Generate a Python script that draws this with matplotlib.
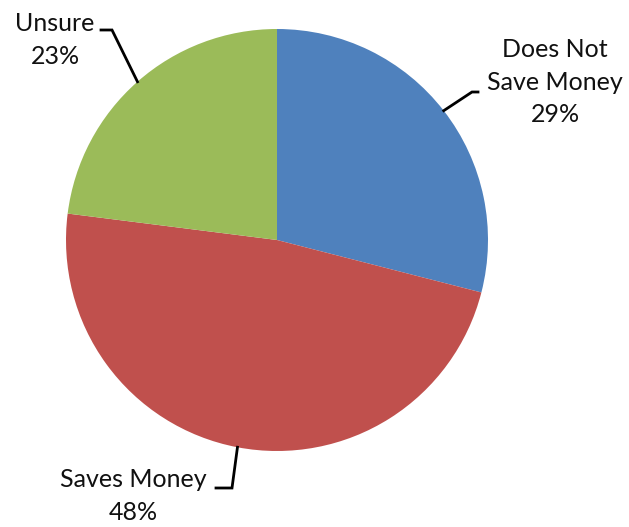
import numpy as np
import matplotlib
matplotlib.use("Agg")
import matplotlib.pyplot as plt

# survey answers
categorias = ["Does Not\nSave Money", "Saves Money", "Unsure"]
percentuais = [29, 48, 23]
cores = ["#4F81BD", "#C0504D", "#9BBB59"]

plt.rcParams['font.family'] = ['Lato', 'DejaVu Sans']

W, H = 629, 527
fig = plt.figure(figsize=(W / 100, H / 100), dpi=100)
ax = fig.add_axes([0, 0, 1, 1])

centro = (277, H - 240)
raio = 211
fatias, _ = ax.pie(percentuais, colors=cores, startangle=90, counterclock=False,
                   center=centro, radius=raio, frame=True,
                   wedgeprops=dict(linewidth=0))
ax.set_xlim(0, W)
ax.set_ylim(0, H)
ax.set_aspect('equal')
ax.axis('off')

# rotulos: (cotovelo, fim da linha, posicao do texto)
layout = [
    ((472, H - 92), (478, H - 92), (555, H - 82)),
    ((232, H - 488), (216, H - 488), (133, H - 496)),
    ((112, H - 30), (101, H - 30), (55, H - 40)),
]

for w, nome, pct, (cot, fim, pos) in zip(fatias, categorias, percentuais, layout):
    ang = np.deg2rad((w.theta1 + w.theta2) / 2)
    borda = (w.center[0] + w.r * np.cos(ang), w.center[1] + w.r * np.sin(ang))
    ax.plot([borda[0], cot[0], fim[0]], [borda[1], cot[1], fim[1]],
            color='black', lw=2, solid_joinstyle='miter', zorder=3)
    ax.text(pos[0], pos[1], f"{nome}\n{pct}%", ha='center', va='center',
            fontsize=18, linespacing=1.5, color='#111111')

fig.savefig("out.png", dpi=100)
